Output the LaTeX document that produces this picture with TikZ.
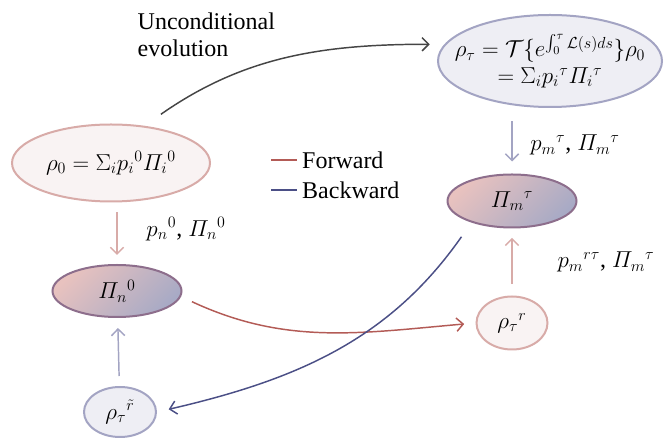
\documentclass[tikz,border=0pt]{standalone}
\usepackage{amsmath, amssymb}
\usepackage{fontspec}
\setmainfont{Liberation Serif}
\usetikzlibrary{arrows.meta, shapes.geometric}
\definecolor{fwdc}{HTML}{B35B56}
\definecolor{bwdc}{HTML}{4B4F86}
\definecolor{evoc}{HTML}{454545}
\definecolor{pinkln}{HTML}{D8ABA8}
\definecolor{blueln}{HTML}{A3A4C3}
\definecolor{pinkfl}{HTML}{F9F3F3}
\definecolor{bluefl}{HTML}{EEEEF4}
\definecolor{pinksh}{HTML}{E8C2BF}
\definecolor{bluesh}{HTML}{A8AAC5}
\definecolor{mixln}{HTML}{8D6E8C}

\begin{document}
\begin{tikzpicture}[x=0.75pt, y=0.75pt, >={Straight Barb[length=5pt,width=10pt]},
      line width=1.1pt,
      every node/.style={font=\fontsize{18}{20}\selectfont},
      st/.style={ellipse, inner sep=0pt, line width=1.5pt},
      pst/.style={st, draw=pinkln, fill=pinkfl},
      bst/.style={st, draw=blueln, fill=bluefl},
      proj/.style={st, draw=mixln, top color=pinksh, bottom color=bluesh,
                   shading angle=45}]
    \useasboundingbox (0,0) rectangle (670,438);
    \node[bst, minimum width=168pt, minimum height=69pt, inner xsep=-30pt,
          align=center] (top) at (550,377)
          {$\rho_\tau = \mathcal{T}\{e^{\int_0^\tau\mathcal{L}(s)ds}\}\rho_0$\\
           $=\Sigma_i p_i{}^{\tau}\varPi_i{}^{\tau}$};
    \node[pst, minimum width=148.5pt, minimum height=57.75pt, inner xsep=-15pt]
          (rho0) at (111,275) {$\rho_0 = \Sigma_i p_i{}^0\varPi_i{}^0$};
    \node[proj, minimum width=96.75pt, minimum height=39pt] (pin) at (117,147)
          {$\varPi_n{}^0$};
    \node[proj, minimum width=96.75pt, minimum height=39.75pt] (pim) at (512,237)
          {$\varPi_m{}^\tau$};
    \node[pst, minimum width=53.25pt, minimum height=39.75pt] (rhor) at (512,115)
          {$\rho_\tau{}^r$};
    \node[bst, minimum width=54pt, minimum height=37.5pt] (rhot) at (120,26)
          {$\rho_\tau{}^{\tilde r}$};
    \node[anchor=north west, align=left, inner sep=0pt] (evo) at (137,426)
          {Unconditional\\evolution};
    \node (lbn) at (186,209) {$p_n{}^0$, $\varPi_n{}^0$};
    \node (lbmt) at (575,293) {$p_m{}^\tau$, $\varPi_m{}^\tau$};
    \node (lbmr) at (606,176) {$p_m{}^{r\tau}$, $\varPi_m{}^\tau$};
    \node[anchor=west] (fwdkey) at (297,278) {Forward};
    \node[anchor=west] (bwdkey) at (297,248) {Backward};
    \coordinate (fwdtail) at (271,278);
    \coordinate (bwdtail) at (271,248);
    \draw[fwdc] (fwdtail)--(fwdkey.west); \draw[bwdc] (bwdtail)--(bwdkey.west);
    \draw[->, pinkln, shorten <=7.5pt, shorten >=6.75pt] (pin |- rho0.south)--(pin.north);
    \draw[->, blueln, shorten <=10pt, shorten >=9pt] (pim |- top.south)--(pim.north);
    \draw[->, pinkln, shorten <=8.5pt, shorten >=7pt] (rhor)--(pim);
    \draw[->, blueln, shorten <=7.5pt, shorten >=7.5pt] (rhot)--(pin);
    \draw[->, evoc, shorten <=15pt, shorten >=11pt] (rho0.48) to[out=35, in=180] (top.171);
    \draw[->, fwdc, shorten <=9pt, shorten >=8.5pt] (pin.-5) to[out=-25, in=185] (rhor.west);
    \draw[->, bwdc, shorten <=13pt, shorten >=9pt] (pim.208) to[out=235, in=13] (rhot.east);
  \end{tikzpicture}
\end{document}
